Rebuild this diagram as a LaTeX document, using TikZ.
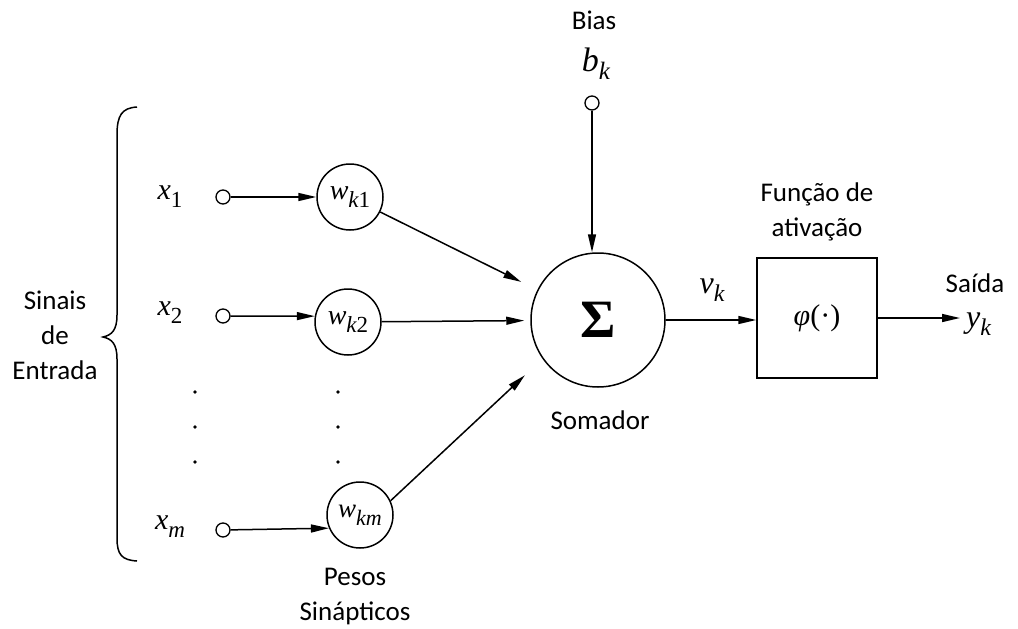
\documentclass[tikz,border=0pt]{standalone}
\usepackage{fontspec}
\setmainfont{Carlito}
\newfontfamily\mf{Liberation Serif}
\newcommand\msb[4]{{\fontsize{#3}{#3}\selectfont\mf\itshape #1}\raisebox{-0.3em}{\fontsize{#4}{#4}\selectfont\mf #2}}
\usetikzlibrary{arrows.meta,calc}
\begin{document}
\begin{tikzpicture}[x=1pt,y=-1pt,
  every node/.style={font=\fontsize{27}{33}\selectfont},
  arr/.style={line width=1.5pt,-{Triangle[length=18pt,width=8pt]}},
  ln/.style={line width=1.5pt},
  wc/.style={circle,draw,line width=1.5pt,minimum size=66pt,inner sep=0pt},
  inc/.style={circle,draw,line width=1.3pt,minimum size=14pt,inner sep=0pt},
  lbl/.style={align=center,font=\fontsize{27}{35}\selectfont}]
\useasboundingbox (0,0) rectangle (1018,629);

% brace
\draw[ln] (137,107) .. controls (122,108) and (117,115) .. (117,135) -- (117,315)
  .. controls (117,330) and (112,335) .. (103,337)
  .. controls (112,339) and (117,344) .. (117,359) -- (117,538)
  .. controls (117,555) and (122,560) .. (137,561);
\node[lbl] (sin) at (55,335) {Sinais\\de\\Entrada};

% inputs
\node (x1) at (170,197) {\msb{x}{1}{30}{23}};
\node (x2) at (170,313) {\msb{x}{2}{30}{23}};
\node (xm) at (170,527) {\msb{x}{\itshape m}{30}{23}};
\node[inc] (i1) at (223,197) {};
\node[inc] (i2) at (223,316) {};
\node[inc] (im) at (223,530) {};

% weights
\node[wc] (w1) at (350,197) {\msb{w}{\itshape k\upshape 1}{28}{23}};
\node[wc] (w2) at (348,322) {\msb{w}{\itshape k\upshape 2}{28}{23}};
\node[wc] (wm) at (360,515) {\msb{w}{\itshape km}{27}{22}};

\foreach \yy in {392,427,462}{
  \fill (195,\yy) circle (1.8pt);
  \fill (338,\yy) circle (1.8pt);
}

\draw[arr] (i1) -- (w1);
\draw[arr] (i2) -- (w2.170);
\draw[arr] (im) -- (wm.203);

% summer
\node[circle,draw,line width=1.5pt,minimum size=134pt,inner sep=0pt] (s) at (598,320)
  {\fontsize{54}{54}\selectfont\mf\bfseries Σ};
\node[lbl] (som) at (600,420) {Somador};

\draw[arr,shorten >=18pt] (w1) -- (s);
\draw[arr,shorten >=6pt] (w2) -- (s);
\draw[arr,shorten >=24pt] (wm.25) -- (s.215);

% bias
\node[lbl] (bias) at (594,20) {Bias};
\node (bk) at (596,64) {\msb{b}{\itshape k}{34}{25}};
\node[inc] (bc) at (592,103) {};
\draw[arr] (bc) -- (bc |- s.north);

% activation
\node[draw,line width=1.5pt,minimum width=120pt,minimum height=120pt] (f) at (817,318)
  {\fontsize{30}{30}\selectfont\mf{\itshape φ}(·)};
\node[lbl] (fa) at (817,212) {Função de\\ativação};
\node (vk) at (712,290) {\msb{v}{\itshape k}{32}{24}};
\draw[arr] (s.east) -- (s.east -| f.west);

% output
\node[anchor=west,inner sep=0pt] (yk) at (966,324) {\msb{y}{\itshape k}{32}{24}};
\node[lbl] (sai) at (975,283) {Saída};
\draw[arr,shorten >=6pt] (f.east) -- (f.east -| yk.west);

% labels
\node[lbl] (pes) at (355,597) {Pesos\\Sinápticos};
\end{tikzpicture}
\end{document}
